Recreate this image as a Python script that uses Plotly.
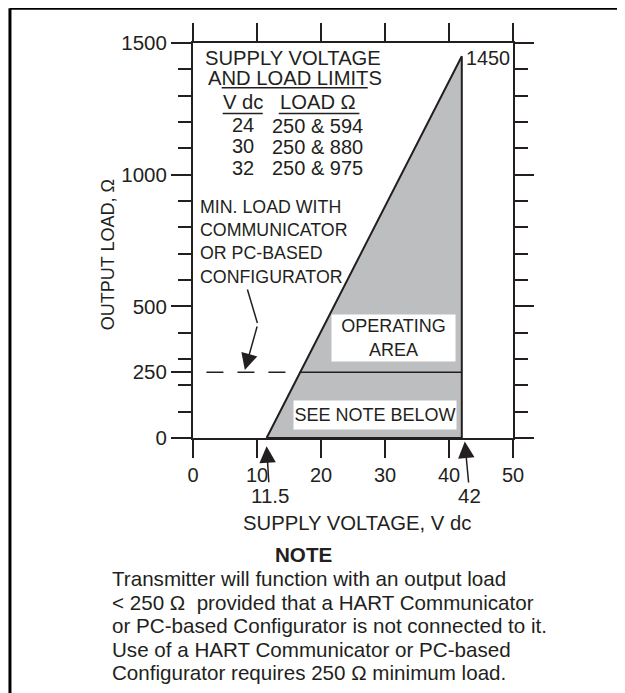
import plotly.graph_objects as go

# ---- data ----
V_MIN = 11.5          # minimum supply voltage (V dc)
V_MAX = 42            # maximum supply voltage (V dc)
LOAD_MAX = 1450       # load at maximum supply voltage (ohm)
LOAD_HART = 250       # minimum load with communicator (ohm)
DASH_START_V = 2.1    # start of dashed 250-ohm reference line

x_ticks = [0, 10, 20, 30, 40, 50]
y_ticks = [0, 250, 500, 1000, 1500]
y_minor = [100, 200, 300, 400, 600, 700, 800, 900, 1100, 1200, 1300, 1400]
y_right_minor = [100, 200, 300, 400, 600, 700, 800, 900, 1100, 1200, 1300, 1400]

table_vdc = ["24", "30", "32"]
table_load = ["250 & 594", "250 & 880", "250 & 975"]

note_lines = [
    "Transmitter will function with an output load",
    "< 250 \u03a9  provided that a HART Communicator",
    "or PC-based Configurator is not connected to it.",
    "Use of a HART Communicator or PC-based",
    "Configurator requires 250 \u03a9 minimum load.",
]

FONT = "Liberation Sans, Arial, Helvetica, sans-serif"
INK = "#231f20"
GRAY = "#bcbec0"

# intersection of the sloped limit line with the 250-ohm line
v_at_250 = V_MIN + (V_MAX - V_MIN) * LOAD_HART / LOAD_MAX

fig = go.Figure()

# operating area
fig.add_trace(go.Scatter(
    x=[V_MIN, V_MAX, V_MAX, V_MIN], y=[0, LOAD_MAX, 0, 0],
    mode="lines", fill="toself", fillcolor=GRAY,
    line=dict(color=INK, width=2), hoverinfo="skip", showlegend=False))

# solid 250 ohm line in operating area
fig.add_trace(go.Scatter(
    x=[v_at_250, V_MAX], y=[LOAD_HART, LOAD_HART], mode="lines",
    line=dict(color=INK, width=1.5), hoverinfo="skip", showlegend=False,
    yaxis="y2"))

# dashed 250 ohm reference
fig.add_trace(go.Scatter(
    x=[DASH_START_V, v_at_250], y=[LOAD_HART, LOAD_HART], mode="lines",
    line=dict(color=INK, width=1.5, dash="17px,14px"),
    hoverinfo="skip", showlegend=False))

ann = []

def txt(x, y, s, size=20, xanchor="center", xref="x", yref="y", **kw):
    ann.append(dict(x=x, y=y, xref=xref, yref=yref, text=s, showarrow=False,
                    xanchor=xanchor, yanchor="middle",
                    font=dict(family=FONT, size=size, color=INK), **kw))

# table block
txt(15.6, 1444, "SUPPLY VOLTAGE", 20.2)
txt(15.9, 1368, "AND LOAD LIMITS", 20.2)
txt(7.77, 1277, "V dc", 20.2)
txt(19.6, 1277, "LOAD \u03a9", 20.2)
for i, (v, l) in enumerate(zip(table_vdc, table_load)):
    y = 1184 - i * 80
    txt(7.77, y + 3, v, 20)
    txt(19.5, y, l, 20)

# apex label
txt(42.3, 1444, "1450", 19.8, xanchor="left")

# min load label
for i, s in enumerate(["MIN. LOAD WITH", "COMMUNICATOR", "OR PC-BASED", "CONFIGURATOR"]):
    txt(0.73, 878 - i * 88.5, s, 17.8, xanchor="left")

# boxes
ann.append(dict(x=31.25, y=378, xref="x", yref="y", text="OPERATING<br>AREA",
                showarrow=False, bgcolor="white", width=123, height=46, borderpad=0,
                font=dict(family=FONT, size=18, color=INK)))
ann.append(dict(x=28.4, y=88.5, xref="x", yref="y", text="SEE NOTE BELOW",
                showarrow=False, bgcolor="white", width=162, height=28, borderpad=0,
                font=dict(family=FONT, size=18, color=INK)))

ARROW = dict(arrowhead=2, arrowsize=2.2, arrowwidth=1.5, arrowcolor=INK, standoff=0)

# callout arrow for min load
ann.append(dict(x=8.1, y=258, xref="x", yref="y", text="", showarrow=True,
                ax=12.7, ay=-45, **ARROW))

# voltage limit arrows
ann.append(dict(x=V_MIN, y=-0.021, xref="x", yref="paper", text=str(V_MIN),
                showarrow=True, ax=3, ay=49, **ARROW,
                font=dict(family=FONT, size=20.5, color=INK)))
ann.append(dict(x=V_MAX, y=-0.009, xref="x", yref="paper", text=str(V_MAX), xshift=3,
                showarrow=True, ax=5, ay=54, **ARROW,
                font=dict(family=FONT, size=20.5, color=INK)))

# axis titles
txt(0.512, -0.215, "SUPPLY VOLTAGE, V dc", 20.3, xref="paper", yref="paper")
ann.append(dict(x=-0.267, y=0.464, xref="paper", yref="paper", text="OUTPUT LOAD, \u03a9",
                showarrow=False, textangle=-90, xanchor="center", yanchor="middle",
                font=dict(family=FONT, size=18, color=INK)))

# note
txt(0.346, -0.295, "<b>NOTE</b>", 20.6, xref="paper", yref="paper")
for i, s in enumerate(note_lines):
    txt(-0.260, (438.3 - (579 + i * 23.5)) / 395, s, 20.6, xanchor="left",
        xref="paper", yref="paper")

shapes = [
    # underlines in table
    dict(type="line", xref="x", yref="y", x0=4.48, x1=27.3, y0=1330, y1=1330,
         line=dict(color=INK, width=1.5)),
    dict(type="line", xref="x", yref="y", x0=4.64, x1=10.9, y0=1232, y1=1232,
         line=dict(color=INK, width=1.5)),
    dict(type="line", xref="x", yref="y", x0=13.4, x1=26.0, y0=1232, y1=1232,
         line=dict(color=INK, width=1.5)),
    # callout upper segment
    dict(type="line", xref="x", yref="y", x0=8.5, x1=10.06, y0=564, y1=437,
         line=dict(color=INK, width=1.5)),
    # outer frame (top and left)
    dict(type="line", xref="paper", yref="paper", x0=-0.572, x1=1.4, y0=1.088, y1=1.088,
         line=dict(color="black", width=3)),
    dict(type="line", xref="paper", yref="paper", x0=-0.572, x1=-0.572, y0=-0.7, y1=1.088,
         line=dict(color="black", width=3)),
]

axis_font = dict(family=FONT, size=20.5, color=INK)
x_axis_font = dict(family=FONT, size=20, color=INK)

# page body has an 8px margin, so the figure is 617x685 and offset by 8px
fig.update_layout(
    width=617, height=685,
    margin=dict(l=185, r=112, t=35, b=255),
    paper_bgcolor="white", plot_bgcolor="white",
    showlegend=False,
    annotations=ann, shapes=shapes,
    xaxis=dict(range=[0, 50], tickvals=x_ticks, ticks="outside", ticklen=18,
               tickwidth=2, tickcolor=INK, showline=True, linecolor=INK, linewidth=2,
               mirror="ticks", showgrid=False, zeroline=False, tickfont=x_axis_font,
               fixedrange=True),
    yaxis=dict(range=[0, 1500], tickvals=y_ticks, ticks="outside", ticklen=20,
               tickwidth=2, tickcolor=INK, showline=True, linecolor=INK, linewidth=2,
               mirror=True, showgrid=False, zeroline=False, tickfont=axis_font,
               minor=dict(tickvals=y_minor, ticks="outside", ticklen=13, tickwidth=2,
                          tickcolor=INK, showgrid=False),
               fixedrange=True),
    yaxis2=dict(range=[0, 1500], overlaying="y", side="right", anchor="x",
                tickvals=[0, 500, 1000, 1500], ticks="outside", ticklen=20, tickwidth=2,
                tickcolor=INK, showticklabels=False, showgrid=False, zeroline=False,
                showline=False,
                minor=dict(tickvals=y_right_minor, ticks="outside", ticklen=14,
                           tickwidth=2, tickcolor=INK, showgrid=False),
                fixedrange=True),
)

fig.write_html("out.html")
